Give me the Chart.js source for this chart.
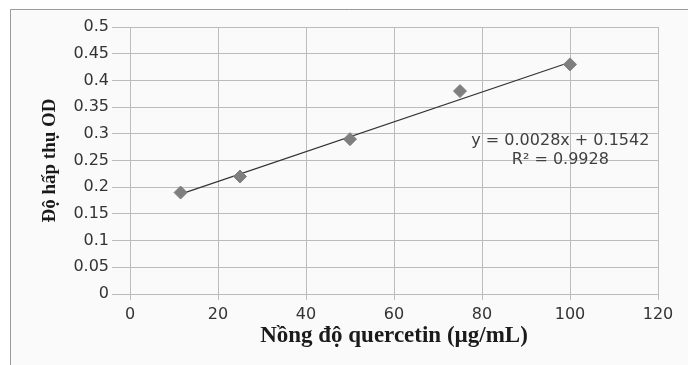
<!DOCTYPE html>
<html>
<head>
<meta charset="utf-8">
<script src="https://cdn.jsdelivr.net/npm/chart.js@4"></script>
<style>
  html, body { margin: 0; padding: 0; background: #fff; }
  canvas { display: block; }
</style>
</head>
<body>
<canvas id="chart" width="688" height="365"></canvas>
<script>
// measured points (quercetin standard curve)
const concentration = [11.5, 25, 50, 75, 100];
const absorbance = [0.19, 0.22, 0.29, 0.38, 0.43];

// ends of the linear trendline as drawn in the picture
const trendX = [11.5, 100];
const trendY = [0.187, 0.434];

const equationLines = ['y = 0.0028x + 0.1542', 'R\u00b2 = 0.9928'];

const xTitle = 'N\u1ed3ng \u0111\u1ed9 quercetin (\u00b5g/mL)';
const yTitle = '\u0110\u1ed9 h\u1ea5p th\u1ee5 OD';

const gridColor = '#bcbcbc';
const tickFont = { family: 'DejaVu Sans', size: 16 };

const panel = {
  id: 'panel',
  beforeDraw(chart) {
    const c = chart.ctx;
    c.save();
    c.fillStyle = '#ffffff';
    c.fillRect(0, 0, chart.width, chart.height);
    c.fillStyle = '#fafafa';
    c.fillRect(10, 9, chart.width, chart.height);
    c.strokeStyle = '#9a9a9a';
    c.lineWidth = 1;
    c.beginPath();
    c.moveTo(10.5, chart.height);
    c.lineTo(10.5, 9.5);
    c.lineTo(chart.width, 9.5);
    c.stroke();
    c.restore();
  }
};

const equation = {
  id: 'equation',
  afterDatasetsDraw(chart) {
    const c = chart.ctx;
    const x = chart.scales.x.getPixelForValue(97.8);
    const y = chart.scales.y.getPixelForValue(0.2873);
    c.save();
    c.font = '16px "DejaVu Sans"';
    c.fillStyle = '#404040';
    c.textAlign = 'center';
    c.textBaseline = 'middle';
    c.fillText(equationLines[0], x, y);
    c.fillText(equationLines[1], x, y + 19);
    c.restore();
  }
};

new Chart(document.getElementById('chart'), {
  type: 'scatter',
  data: {
    datasets: [
      {
        label: 'OD',
        data: concentration.map((v, i) => ({ x: v, y: absorbance[i] })),
        pointStyle: 'rectRot',
        pointRadius: 6.5,
        backgroundColor: '#7f7f7f',
        borderColor: '#7f7f7f',
        borderWidth: 1,
        order: 1
      },
      {
        label: 'Linear',
        type: 'line',
        data: trendX.map((v, i) => ({ x: v, y: trendY[i] })),
        borderColor: '#333333',
        borderWidth: 1.2,
        pointRadius: 0,
        fill: false,
        order: 2
      }
    ]
  },
  options: {
    responsive: false,
    devicePixelRatio: 1,
    animation: false,
    layout: { padding: { left: 0, top: 27, right: 30, bottom: 0 } },
    plugins: {
      legend: { display: false },
      tooltip: { enabled: false }
    },
    scales: {
      x: {
        type: 'linear',
        min: 0,
        max: 120,
        ticks: {
          stepSize: 20,
          color: '#333',
          font: tickFont,
          padding: 5
        },
        grid: { color: gridColor, tickLength: 6 },
        border: { color: gridColor },
        title: {
          display: true,
          text: xTitle,
          color: '#1a1a1a',
          font: { family: 'Liberation Serif', size: 23, weight: 'bold' },
          padding: { top: 0, bottom: 15 }
        },
        afterFit(scale) { scale.height = 71; }
      },
      y: {
        min: 0,
        max: 0.5,
        ticks: {
          stepSize: 0.05,
          color: '#333',
          font: tickFont,
          padding: 3,
          callback: (v) => String(Math.round(v * 100) / 100)
        },
        grid: { color: gridColor, tickLength: 18 },
        border: { color: gridColor },
        title: {
          display: true,
          text: yTitle,
          color: '#1a1a1a',
          font: { family: 'Liberation Serif', size: 19, weight: 'bold' },
          padding: { top: 39, bottom: 0 }
        },
        afterFit(scale) { scale.width = 130; }
      }
    }
  },
  plugins: [panel, equation]
});
</script>
</body>
</html>
